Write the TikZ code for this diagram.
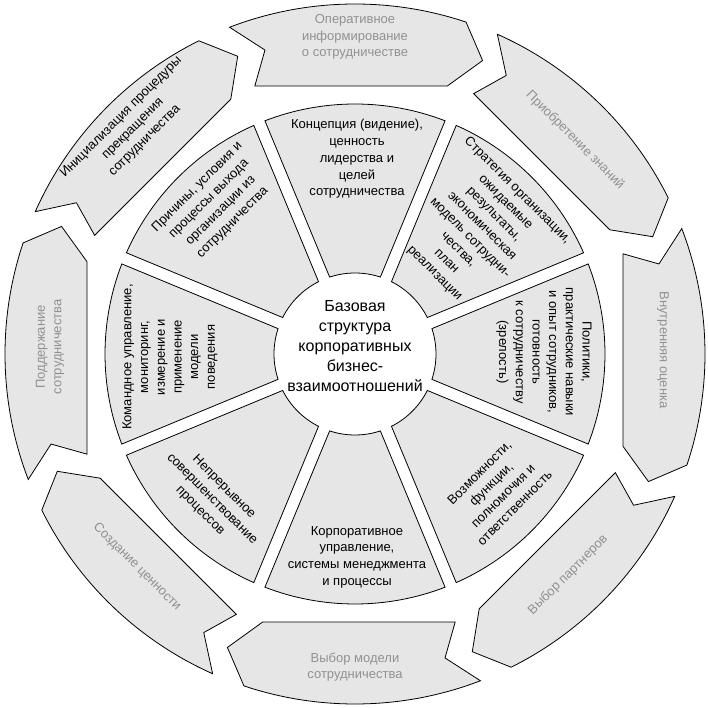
\documentclass[tikz,border=0pt]{standalone}
\usepackage{fontspec}
\setmainfont{Liberation Sans}
\definecolor{segfill}{RGB}{230,230,230}
\definecolor{outtext}{RGB}{145,145,145}
\tikzset{
  seg/.style={fill=segfill, draw=black, line width=0.8pt, line join=miter},
  intext/.style={font=\fontsize{13}{16.7}\selectfont, align=center, text=black, inner sep=0pt},
  outtxt/.style={font=\fontsize{13}{16.7}\selectfont, align=center, text=outtext, inner sep=0pt},
  ctext/.style={font=\fontsize{16}{20}\selectfont, align=center, text=black, inner sep=0pt},
}
\begin{document}
\begin{tikzpicture}[x=1pt,y=1pt]
\useasboundingbox (-355,-354) rectangle (353,354);
% inner ring of sectors
\foreach \c in {90,45,...,-225} {
  \draw[seg] (\c+22.5-1.38:250) arc[start angle=\c+22.5-1.38, end angle=\c-22.5+1.38, radius=250]
    -- (\c-22.5+4.25:81) arc[start angle=\c-22.5+4.25, end angle=\c+22.5-4.25, radius=81] -- cycle;
}
% outer ring of arrows (clockwise)
\foreach \c in {90,45,...,-225} {
  \draw[seg] (\c+21:350) arc[start angle=\c+21, end angle=\c-18.5, radius=350]
    -- (\c-23.5:320) -- (\c-19:283.4) -- (\c+20.5:286.1) -- (\c+16.5:317) -- cycle;
}
% centre
\node[ctext] (c) at (0,8) {Базовая\\структура\\корпоративных\\бизнес-\\взаимоотношений};
% inner texts
\node[intext] (s1) at (2,195) {Концепция (видение),\\ценность\\лидерства и\\целей\\сотрудничества};
\node[intext, rotate=-45] (s2) at (121,122) {Стратегия организации,\\ожидаемые\\результаты,\\экономическая\\модель сотрудни-\\чества,\\план\\реализации};
\node[intext, rotate=-90] (s3) at (189,2) {Политики,\\практические навыки\\и опыт сотрудников,\\готовность\\к сотрудничеству\\(зрелость)};
\node[intext, rotate=45] (s4) at (142,-136) {Возможности,\\функции,\\полномочия и\\ответственность};
\node[intext] (s5) at (2,-203) {Корпоративное\\управление,\\системы менеджмента\\и процессы};
\node[intext, rotate=-45] (s6) at (-143,-145) {Непрерывное\\совершенствование\\процессов};
\node[intext, rotate=90] (s7) at (-185,-3) {Командное управление,\\мониторинг,\\измерение и\\применение\\модели\\поведения};
\node[intext, rotate=45] (s8) at (-140,149) {Причины, условия и\\процессы выхода\\организации из\\сотрудничества};
% outer texts
\node[outtxt] (o1) at (0,317) {Оперативное\\информирование\\о сотрудничестве};
\node[outtxt, rotate=-45] (o2) at (220,214) {Приобретение знаний};
\node[outtxt, rotate=-90] (o3) at (308,4) {Внутренняя оценка};
\node[outtxt, rotate=45] (o4) at (213,-221) {Выбор партнеров};
\node[outtxt] (o5) at (0,-313) {Выбор модели\\сотрудничества};
\node[outtxt, rotate=-45] (o6) at (-218,-213) {Создание ценности};
\node[outtxt, rotate=90] (o7) at (-305,7) {Поддержание\\сотрудничества};
\node[intext, rotate=45] (o8) at (-222,225) {Инициализация процедуры\\прекращения\\сотрудничества};
\end{tikzpicture}
\end{document}
